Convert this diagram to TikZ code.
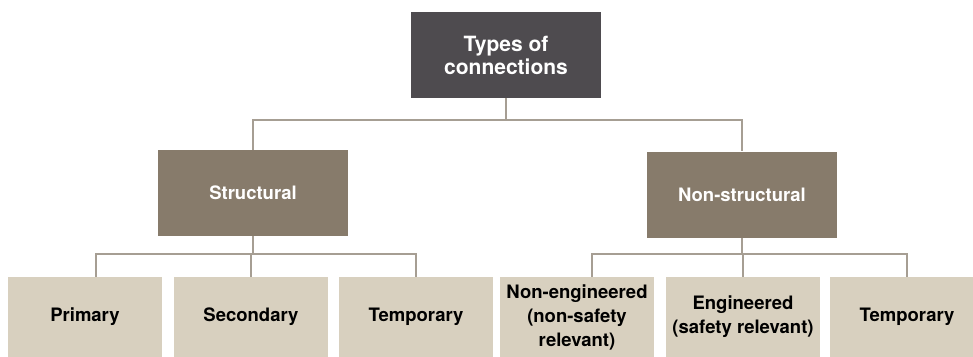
\documentclass[tikz,border=0pt]{standalone}
\usepackage{fontspec}
\setmainfont{TeX Gyre Heros}
\definecolor{rootgray}{HTML}{4E4B4F}
\definecolor{groupbrown}{HTML}{877B6B}
\definecolor{leafbeige}{HTML}{D8D0BF}
\definecolor{linkgray}{HTML}{A69E93}

\begin{document}
\begin{tikzpicture}[x=1pt,y=-1pt,
rootbox/.style={fill=rootgray,text=white,inner sep=0pt,align=center,
  minimum width=190pt,minimum height=86pt,
  font=\bfseries\fontsize{21}{23}\selectfont},
groupbox/.style={fill=groupbrown,text=white,inner sep=0pt,align=center,
  minimum width=190pt,minimum height=86pt,
  font=\bfseries\fontsize{18.5}{24}\selectfont},
leafbox/.style={fill=leafbeige,text=black,inner sep=0pt,align=center,
  minimum width=154pt,minimum height=80pt,
  font=\bfseries\fontsize{18.5}{24}\selectfont},
link/.style={draw=linkgray,line width=2.2pt}]
\useasboundingbox (0,0) rectangle (973,356);
\clip (0,0) rectangle (973,356);
% boxes
\node[rootbox] (types) at (506,55) {Types of\\connections};
\node[groupbox] (structural) at (253,193) {Structural};
\node[groupbox] (nonstructural) at (742,194.5) {Non-structural};
\node[leafbox] (primary) at (85,317) {Primary};
\node[leafbox] (secondary) at (251,317) {Secondary};
\node[leafbox] (temporaryS) at (416,317) {Temporary};
\node[leafbox] (nonengineered) at (577,317) {Non-engineered\\(non-safety\\relevant)};
\node[leafbox] (engineered) at (743,317) {Engineered\\(safety relevant)};
\node[leafbox] (temporaryN) at (907,317) {Temporary};
% links
\path[link] (types.south) -- ++(0,22) coordinate (split)
  -| (structural.north) (split) -| (nonstructural.north);
\path[link] (structural.south) -- ++(0,18) coordinate (splitS)
  -| ([xshift=11pt]primary.north) (splitS) -| (secondary.north)
  (splitS) -| (temporaryS.north);
\path[link] (nonstructural.south) -- ++(0,16.5) coordinate (splitN)
  -| ([xshift=15pt]nonengineered.north) (splitN) -| (engineered.north)
  (splitN) -| (temporaryN.north);
\end{tikzpicture}
\end{document}
